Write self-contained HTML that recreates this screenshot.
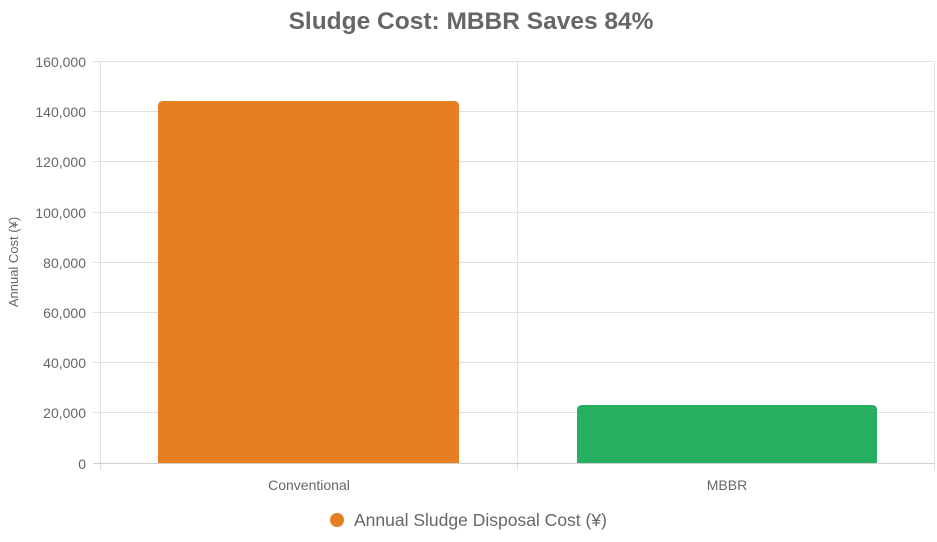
<!DOCTYPE html>
<html><head><meta charset="utf-8"><style>
html,body{margin:0;padding:0;background:#fff;}
svg{display:block;font-family:"Liberation Sans",Arial,sans-serif;}
</style></head><body>
<svg width="937" height="542" viewBox="0 0 937 542" xmlns="http://www.w3.org/2000/svg">
<text x="471" y="29" text-anchor="middle" font-size="24.5" font-weight="bold" fill="#666">Sludge Cost: MBBR Saves 84%</text>
<g stroke="#e1e1e1" stroke-width="1">
<line x1="93" y1="61.5" x2="935" y2="61.5"/>
<line x1="93" y1="111.5" x2="935" y2="111.5"/>
<line x1="93" y1="161.5" x2="935" y2="161.5"/>
<line x1="93" y1="212.5" x2="935" y2="212.5"/>
<line x1="93" y1="262.5" x2="935" y2="262.5"/>
<line x1="93" y1="312.5" x2="935" y2="312.5"/>
<line x1="93" y1="362.5" x2="935" y2="362.5"/>
<line x1="93" y1="412.5" x2="935" y2="412.5"/>
<line x1="100.5" y1="61" x2="100.5" y2="470"/>
<line x1="517.5" y1="61" x2="517.5" y2="470"/>
<line x1="934.5" y1="61" x2="934.5" y2="470"/>
</g>
<line x1="93" y1="463.5" x2="935" y2="463.5" stroke="#d0d0d0"/>
<g font-size="14" fill="#666" text-anchor="end">
<text x="86" y="67">160,000</text>
<text x="86" y="117">140,000</text>
<text x="86" y="167">120,000</text>
<text x="86" y="218">100,000</text>
<text x="86" y="268">80,000</text>
<text x="86" y="318">60,000</text>
<text x="86" y="368">40,000</text>
<text x="86" y="418">20,000</text>
<text x="86" y="469">0</text>
</g>
<text transform="translate(18,262) rotate(-90)" text-anchor="middle" font-size="13" fill="#666">Annual Cost (¥)</text>
<path d="M158,463 V106 Q158,101 163,101 H454 Q459,101 459,106 V463 Z" fill="#e67e22"/>
<path d="M577,463 V410 Q577,405 582,405 H872 Q877,405 877,410 V463 Z" fill="#27ae60"/>
<g font-size="14" fill="#666" text-anchor="middle">
<text x="309" y="490">Conventional</text>
<text x="727" y="490">MBBR</text>
</g>
<circle cx="337" cy="520" r="7" fill="#e67e22"/>
<text x="354" y="526" font-size="17.5" fill="#666">Annual Sludge Disposal Cost (¥)</text>
</svg>
</body></html>
